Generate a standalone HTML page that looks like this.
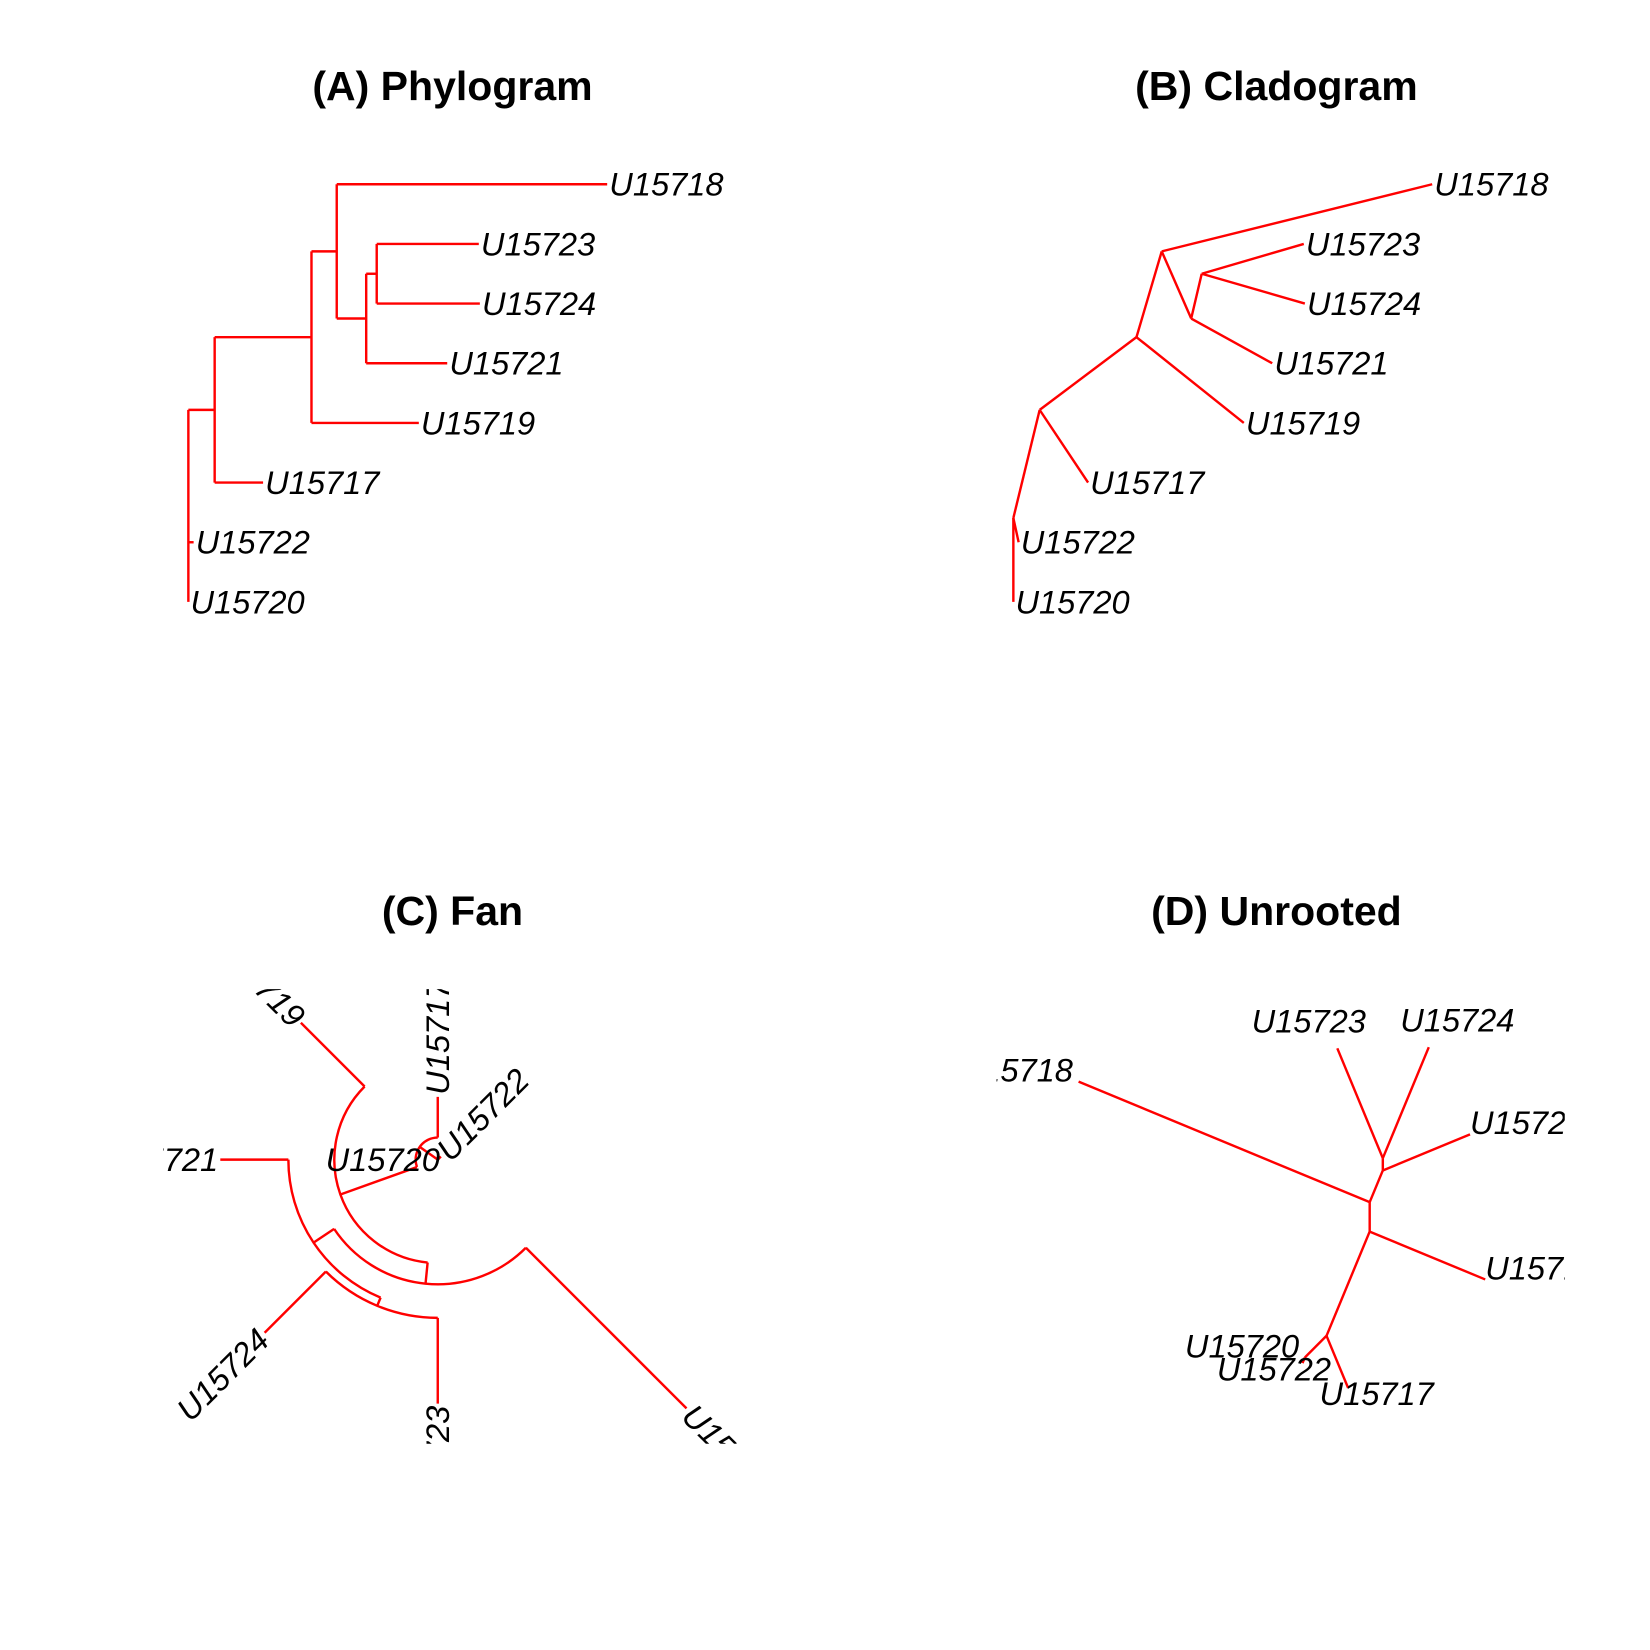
<!DOCTYPE html>
<html><head><meta charset="utf-8"><style>
html,body{margin:0;padding:0;background:#fff;}
svg{display:block;}
.lab{font-family:"Liberation Sans",Arial,sans-serif;font-style:italic;font-size:31px;fill:#000;}
.ttl{font-family:"Liberation Sans",Arial,sans-serif;font-weight:bold;font-size:39px;fill:#000;text-anchor:middle;}
.br{stroke:#ff0000;stroke-width:2.3;fill:none;stroke-linecap:butt;}
</style></head><body>
<svg id="fig" width="1650" height="1650" viewBox="0 0 1568 1568" xmlns="http://www.w3.org/2000/svg">
<defs>
<clipPath id="clipC"><rect x="155" y="940" width="545" height="432"/></clipPath>
<clipPath id="clipD"><rect x="947" y="900" width="540" height="500"/></clipPath>
</defs>
<text class="ttl" x="430" y="95">(A) Phylogram</text>
<text class="ttl" x="1213" y="95">(B) Cladogram</text>
<text class="ttl" x="430" y="879">(C) Fan</text>
<text class="ttl" x="1213" y="879">(D) Unrooted</text>
<g id="pA"></g>
<g id="pB"></g>
<g id="pC" clip-path="url(#clipC)"></g>
<g id="pD" clip-path="url(#clipD)"></g>
</svg>
<script>
// ---- tree data ----
const tipNames = ["U15720","U15722","U15717","U15719","U15721","U15724","U15723","U15718"]; // bottom-up order
const tipDepths = [0, 5, 71, 219, 246, 277, 276, 398];
const nodeIds = ["root","nA","nB","nC","nD","nE"];
const nodeDepths = [0, 25, 117, 141, 169, 179];
const edgeParents = ["root","root","root","nA","nA","nB","nB","nC","nC","nD","nD","nE","nE"];
const edgeChildren = ["U15720","U15722","nA","U15717","nB","U15719","nC","nD","U15718","U15721","nE","U15724","U15723"];

const NS="http://www.w3.org/2000/svg";
const depth={}, isTip={};
tipNames.forEach((t,i)=>{depth[t]=tipDepths[i];isTip[t]=true;});
nodeIds.forEach((n,i)=>{depth[n]=nodeDepths[i];isTip[n]=false;});
const kids={}; nodeIds.forEach(n=>kids[n]=[]);
edgeParents.forEach((p,i)=>kids[p].push(edgeChildren[i]));

function mk(tag,g,attrs){const e=document.createElementNS(NS,tag);for(const k in attrs)e.setAttribute(k,attrs[k]);g.appendChild(e);return e;}
function line(g,x1,y1,x2,y2,name){
  const e=mk('line',g,{x1:x1,y1:y1,x2:x2,y2:y2,'class':'br'});
  
  
  return e;}
function label(g,txt,x,y,anchor,rot){
  const e=mk('text',g,{x:x,y:y,'class':'lab','text-anchor':anchor,dy:'0.35em'});
  if(rot)e.setAttribute('transform','rotate('+rot+' '+x+' '+y+')');
  e.textContent=txt;
  
  
  return e;}

// y coordinates (shared by A and B)
const yScale=i=>572-i*56.7;
const yy={};
tipNames.forEach((t,i)=>yy[t]=yScale(i));
function yOf(n){ if(yy[n]!==undefined) return yy[n]; const c=kids[n].map(yOf); yy[n]=c.reduce((a,b)=>a+b,0)/c.length; return yy[n]; }
yOf("root");

// ---- (A) Phylogram ----
const gA=document.getElementById('pA');
const xA=d=>179+d*1.0;
nodeIds.forEach(n=>{
  const cy=kids[n].map(c=>yy[c]);
  line(gA,xA(depth[n]),Math.min(...cy),xA(depth[n]),Math.max(...cy),'phylogram-vertical-'+n);
  kids[n].forEach(c=>line(gA,xA(depth[n]),yy[c],xA(depth[c]),yy[c],'phylogram-branch-'+c.toLowerCase()));
});
tipNames.forEach(t=>label(gA,t,xA(depth[t])+2,yy[t],'start',0));

// ---- (B) Cladogram ----
const gB=document.getElementById('pB');
const xB=d=>963+d*1.0;
edgeChildren.forEach((c,i)=>{const p=edgeParents[i];
  line(gB,xB(depth[p]),yy[p],xB(depth[c]),yy[c],'cladogram-branch-'+c.toLowerCase());});
tipNames.forEach(t=>label(gB,t,xB(depth[t])+2,yy[t],'start',0));

// ---- (C) Fan ----
const gC=document.getElementById('pC');
const cx=416, cy=1102, rS=0.84;
const ang={};
tipNames.forEach((t,i)=>ang[t]=i*360/tipNames.length);
function angOf(n){ if(ang[n]!==undefined) return ang[n]; const c=kids[n].map(angOf); ang[n]=(Math.min(...c)+Math.max(...c))/2; return ang[n]; }
angOf("root");
const P=(r,a)=>[cx+r*Math.cos(a*Math.PI/180), cy-r*Math.sin(a*Math.PI/180)];
nodeIds.forEach(n=>{
  const r=depth[n]*rS; if(r<=0) return;
  const ca=kids[n].map(c=>ang[c]); const a1=Math.min(...ca), a2=Math.max(...ca);
  const p1=P(r,a1), p2=P(r,a2);
  const e=mk('path',gC,{d:'M'+p1[0]+' '+p1[1]+' A'+r+' '+r+' 0 '+((a2-a1)>180?1:0)+' 0 '+p2[0]+' '+p2[1],'class':'br'});
  
  
});
edgeChildren.forEach((c,i)=>{const p=edgeParents[i];
  const a=P(depth[p]*rS,ang[c]), b=P(depth[c]*rS,ang[c]);
  line(gC,a[0],a[1],b[0],b[1],'fan-branch-'+c.toLowerCase());});
tipNames.forEach(t=>{
  const a=ang[t]; const q=P(depth[t]*rS+2,a);
  if(a===0){ label(gC,t,q[0],q[1],'end',0); }
  else if(a>90&&a<=270){ label(gC,t,q[0],q[1],'end',180-a); }
  else { label(gC,t,q[0],q[1],'start',-a); }
});

// ---- (D) Unrooted (equal-angle) ----
const gD=document.getElementById('pD');
const uS=1.165, ox=1240, oy=1290;
const nsp={};
function cnt(n){ if(isTip[n]) return nsp[n]=1; return nsp[n]=kids[n].reduce((s,c)=>s+cnt(c),0); }
cnt("root");
const ux={root:0}, uy={root:0}, uax={};
function lay(n,ANGLE,AXIS){
  let start=AXIS-ANGLE/2;
  kids[n].forEach(c=>{
    const h=depth[c]-depth[n];
    const alpha=ANGLE*nsp[c]/nsp[n];
    const beta=start+alpha/2; start+=alpha;
    uax[c]=beta;
    ux[c]=ux[n]+h*Math.cos(beta); uy[c]=uy[n]+h*Math.sin(beta);
    if(!isTip[c]) lay(c,alpha,beta);
  });
}
lay("root",2*Math.PI,0);
const sx=v=>ox+v*uS, sy=v=>oy-v*uS;
edgeChildren.forEach((c,i)=>{const p=edgeParents[i];
  line(gD,sx(ux[p]),sy(uy[p]),sx(ux[c]),sy(uy[c]),'unrooted-branch-'+c.toLowerCase());});
tipNames.forEach(t=>{
  const el=label(gD,t,sx(ux[t]),sy(uy[t]),'start',0);
  const w=el.getComputedTextLength()||112, h=22;
  const a=uax[t], aa=Math.abs(a);
  let xa=0, ya=0;
  if(aa>0.75*Math.PI) xa=-w*1.05;
  else if(aa>Math.PI/4) xa=-w*(2*aa/Math.PI-0.5);
  if(a>Math.PI/4&&a<0.75*Math.PI) ya=h/2+4;
  if(a<-Math.PI/4&&a>-0.75*Math.PI) ya=-h*0.75;
  el.setAttribute('x',sx(ux[t])+xa);
  el.setAttribute('y',sy(uy[t])-ya-11);
});
</script>
</body></html>
